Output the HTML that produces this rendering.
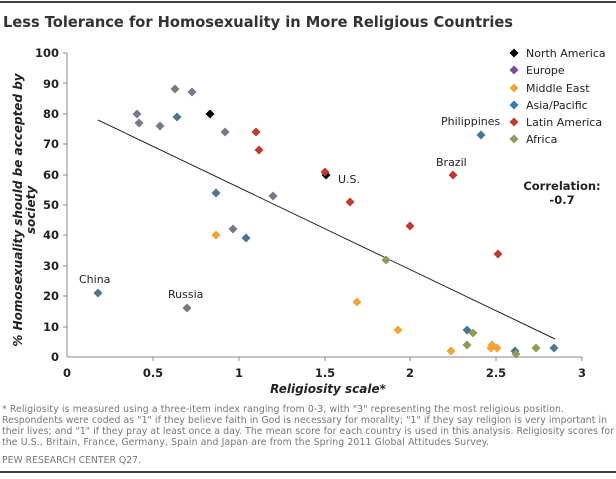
<!DOCTYPE html>
<html><head><meta charset="utf-8"><style>
body{margin:0;background:#fff;}
svg text{font-family:"DejaVu Sans","Liberation Sans",sans-serif;}
</style></head><body>
<svg width="616" height="474" xmlns="http://www.w3.org/2000/svg">
<line x1="0" y1="2" x2="616" y2="2" stroke="#000" stroke-width="1.5"/>
<text x="3" y="27" font-size="15.5" font-weight="bold" fill="#333" textLength="510" lengthAdjust="spacingAndGlyphs">Less Tolerance for Homosexuality in More Religious Countries</text>
<g font-size="11.5" font-weight="bold" fill="#222" text-anchor="end">
<text x="59" y="57">100</text><text x="59" y="88">90</text><text x="59" y="118">80</text><text x="59" y="148">70</text><text x="59" y="179">60</text><text x="59" y="209">50</text><text x="59" y="239">40</text><text x="59" y="270">30</text><text x="59" y="300">20</text><text x="59" y="331">10</text><text x="59" y="361">0</text>
</g>
<g stroke="#888" stroke-width="1">
<line x1="67" y1="53" x2="67" y2="357"/><line x1="67" y1="357" x2="582" y2="357"/>
<line x1="63" y1="53" x2="67" y2="53"/><line x1="63" y1="83" x2="67" y2="83"/><line x1="63" y1="114" x2="67" y2="114"/><line x1="63" y1="144" x2="67" y2="144"/><line x1="63" y1="175" x2="67" y2="175"/><line x1="63" y1="205" x2="67" y2="205"/><line x1="63" y1="235" x2="67" y2="235"/><line x1="63" y1="266" x2="67" y2="266"/><line x1="63" y1="296" x2="67" y2="296"/><line x1="63" y1="327" x2="67" y2="327"/>
<line x1="153" y1="357" x2="153" y2="361"/><line x1="239" y1="357" x2="239" y2="361"/><line x1="325" y1="357" x2="325" y2="361"/><line x1="410" y1="357" x2="410" y2="361"/><line x1="496" y1="357" x2="496" y2="361"/><line x1="582" y1="357" x2="582" y2="361"/>
</g>
<g font-size="11.5" font-weight="bold" fill="#222" text-anchor="middle">
<text x="67" y="377">0</text><text x="153" y="377">0.5</text><text x="239" y="377">1</text><text x="325" y="377">1.5</text><text x="410" y="377">2</text><text x="496" y="377">2.5</text><text x="582" y="377">3</text>
</g>
<text x="328" y="393" font-size="12" font-weight="bold" font-style="italic" fill="#222" text-anchor="middle">Religiosity scale*</text>
<g transform="translate(22,210) rotate(-90)" font-size="12" font-weight="bold" font-style="italic" fill="#222" text-anchor="middle">
<text x="0" y="0">% Homosexuality should be accepted by</text><text x="0" y="13">society</text></g>
<line x1="98" y1="120" x2="555" y2="339" stroke="#222" stroke-width="1"/>
<defs><path id="d" d="M0,-4.5 L4.5,0 L0,4.5 L-4.5,0Z"/></defs>
<g fill="#7d7689">
<use href="#d" x="137" y="114"/><use href="#d" x="139" y="123"/><use href="#d" x="160" y="126"/><use href="#d" x="175" y="89"/><use href="#d" x="192" y="92"/><use href="#d" x="225" y="132"/><use href="#d" x="273" y="196"/><use href="#d" x="233" y="229"/><use href="#d" x="187" y="308"/>
</g>
<g fill="#000"><use href="#d" x="210" y="114"/><use href="#d" x="326" y="175"/></g>
<g fill="#4a7592">
<use href="#d" x="177" y="117"/><use href="#d" x="216" y="193"/><use href="#d" x="246" y="238"/><use href="#d" x="98" y="293"/><use href="#d" x="481" y="135"/><use href="#d" x="467" y="330"/><use href="#d" x="515" y="351"/><use href="#d" x="554" y="348"/>
</g>
<g fill="#c0392b">
<use href="#d" x="256" y="132"/><use href="#d" x="259" y="150"/><use href="#d" x="325" y="172"/><use href="#d" x="350" y="202"/><use href="#d" x="410" y="226"/><use href="#d" x="453" y="175"/><use href="#d" x="498" y="254"/>
</g>
<g fill="#f3a333">
<use href="#d" x="216" y="235"/><use href="#d" x="357" y="302"/><use href="#d" x="398" y="330"/><use href="#d" x="451" y="351"/><use href="#d" x="491" y="348"/><use href="#d" x="492" y="345"/><use href="#d" x="497" y="348"/>
</g>
<g fill="#8d9c55">
<use href="#d" x="386" y="260"/><use href="#d" x="467" y="345"/><use href="#d" x="473" y="333"/><use href="#d" x="516" y="354"/><use href="#d" x="536" y="348"/>
</g>
<g font-size="11" fill="#222">
<text x="79" y="283">China</text><text x="168" y="298">Russia</text><text x="338" y="183">U.S.</text><text x="436" y="166">Brazil</text><text x="441" y="125">Philippines</text>
</g>
<g font-size="11.5" font-weight="bold" fill="#222" text-anchor="middle"><text x="562" y="190">Correlation:</text><text x="562" y="204">-0.7</text></g>
<g font-size="11" fill="#222">
<use href="#d" x="514" y="53" fill="#000"/><text x="526" y="57">North America</text>
<use href="#d" x="514" y="70" fill="#7b4a9e"/><text x="526" y="74">Europe</text>
<use href="#d" x="514" y="88" fill="#f3a333"/><text x="526" y="92">Middle East</text>
<use href="#d" x="514" y="105" fill="#2f7fb8"/><text x="526" y="109">Asia/Pacific</text>
<use href="#d" x="514" y="122" fill="#c0392b"/><text x="526" y="126">Latin America</text>
<use href="#d" x="514" y="139" fill="#8d9c55"/><text x="526" y="143">Africa</text>
</g>
<g font-size="9.3" fill="#777">
<text x="2" y="412" textLength="562">* Religiosity is measured using a three-item index ranging from 0-3, with "3" representing the most religious position.</text>
<text x="2" y="423" textLength="605">Respondents were coded as "1" if they believe faith in God is necessary for morality; "1" if they say religion is very important in</text>
<text x="2" y="434" textLength="612">their lives; and "1" if they pray at least once a day. The mean score for each country is used in this analysis. Religiosity scores for</text>
<text x="2" y="445" textLength="487">the U.S., Britain, France, Germany, Spain and Japan are from the Spring 2011 Global Attitudes Survey.</text>
<text x="2" y="463" textLength="139">PEW RESEARCH CENTER Q27.</text>
</g>
<line x1="0" y1="472" x2="616" y2="472" stroke="#000" stroke-width="1.5"/>
</svg>
</body></html>
